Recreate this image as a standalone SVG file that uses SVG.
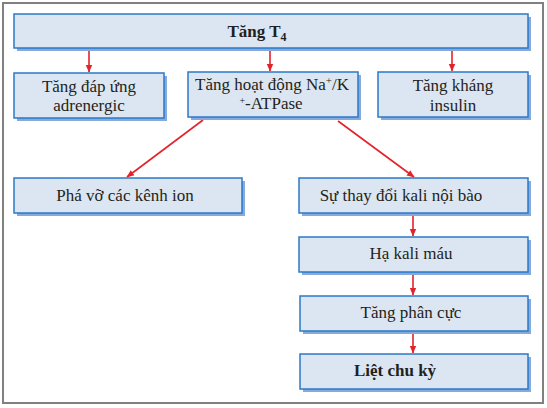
<svg xmlns="http://www.w3.org/2000/svg" width="547" height="408" viewBox="0 0 547 408">
<style>
.box{fill:#dce6f2;stroke:#2a7ac6;stroke-width:1.5}
.sh{fill:#86aadb}
.t{font-family:"Liberation Serif","Times New Roman",serif;font-size:17px;fill:#231f20;text-anchor:middle}
.b{font-weight:bold}
.c{stroke:#e3232b;stroke-width:1.6;fill:none;marker-end:url(#ah)}
</style>
<defs>
<marker id="ah" markerWidth="8" markerHeight="8" refX="7" refY="4" orient="auto" markerUnits="userSpaceOnUse">
<path d="M0,0.8 L7.5,4 L0,7.2 Z" fill="#e3232b"/>
</marker>
</defs>
<rect x="3" y="3" width="540" height="400" fill="#ffffff" stroke="#808080" stroke-width="2"/>
<g id="connectors">
<line class="c" x1="89" y1="49" x2="89" y2="72"/>
<line class="c" x1="270" y1="49" x2="270" y2="71"/>
<line class="c" x1="452" y1="49" x2="452" y2="71"/>
<line class="c" x1="203" y1="120" x2="127" y2="177"/>
<line class="c" x1="338" y1="121" x2="414" y2="177"/>
<line class="c" x1="413" y1="214" x2="413" y2="236"/>
<line class="c" x1="413" y1="273" x2="413" y2="295"/>
<line class="c" x1="413" y1="332" x2="413" y2="353"/>
</g>
<g id="n-t4">
<rect class="sh" x="17" y="17" width="514" height="34"/>
<rect class="box" x="14" y="14" width="514" height="34"/>
<text class="t b" x="257" y="37">Tăng T<tspan font-size="12" dy="4">4</tspan></text>
</g>
<g id="n-adrenergic">
<rect class="sh" x="17" y="76" width="150" height="45"/>
<rect class="box" x="14" y="73" width="150" height="45"/>
<text class="t" x="89" y="92">Tăng đáp ứng</text>
<text class="t" x="89" y="111">adrenergic</text>
</g>
<g id="n-atpase">
<rect class="sh" x="191" y="75" width="170" height="45"/>
<rect class="box" x="188" y="72" width="170" height="45"/>
<text class="t" x="272" y="90">Tăng hoạt động Na<tspan font-size="11" dy="-6">+</tspan><tspan dy="6">/K</tspan></text>
<text class="t" x="271" y="109"><tspan font-size="10" dy="-5">+</tspan><tspan dy="5">-ATPase</tspan></text>
</g>
<g id="n-insulin">
<rect class="sh" x="381" y="75" width="150" height="45"/>
<rect class="box" x="378" y="72" width="150" height="45"/>
<text class="t" x="453" y="91">Tăng kháng</text>
<text class="t" x="453" y="111">insulin</text>
</g>
<g id="n-ion">
<rect class="sh" x="17" y="181" width="228" height="35"/>
<rect class="box" x="14" y="178" width="228" height="35"/>
<text class="t" x="125" y="201">Phá vỡ các kênh ion</text>
</g>
<g id="n-kali-noi-bao">
<rect class="sh" x="302" y="181" width="229" height="35"/>
<rect class="box" x="299" y="178" width="229" height="35"/>
<text class="t" x="401" y="201">Sự thay đổi kali nội bào</text>
</g>
<g id="n-ha-kali">
<rect class="sh" x="302" y="240" width="229" height="35"/>
<rect class="box" x="299" y="237" width="229" height="35"/>
<text class="t" x="411" y="259">Hạ kali máu</text>
</g>
<g id="n-phan-cuc">
<rect class="sh" x="303" y="299" width="228" height="35"/>
<rect class="box" x="300" y="296" width="228" height="35"/>
<text class="t" x="411" y="318">Tăng phân cực</text>
</g>
<g id="n-liet">
<rect class="sh" x="303" y="357" width="228" height="35"/>
<rect class="box" x="300" y="354" width="228" height="35"/>
<text class="t b" x="395" y="376">Liệt chu kỳ</text>
</g>
</svg>
